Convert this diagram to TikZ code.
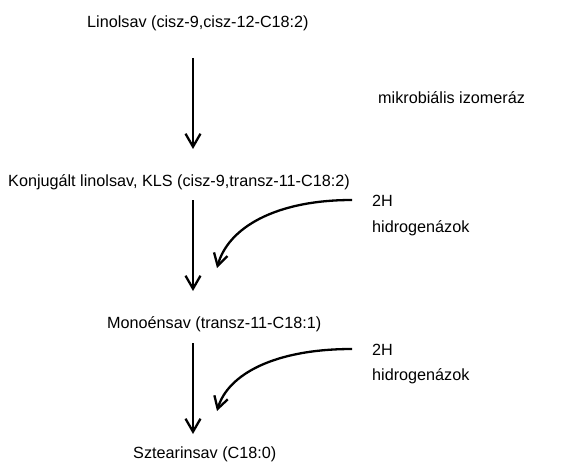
\documentclass[tikz,border=0pt]{standalone}
\usepackage{fontspec}
\setmainfont{Liberation Sans}
\usetikzlibrary{arrows.meta}
\tikzset{
  lbl/.style={anchor=base west, inner sep=0pt, font=\fontsize{16.2}{19}\selectfont},
  main/.style={line width=2.3pt, -{Straight Barb[length=13pt,width=15pt,line width=2.3pt]}},
  curv/.style={line width=2.3pt, -{Straight Barb[length=12pt,width=14pt,line width=2.3pt]}}
}
\begin{document}
\begin{tikzpicture}[x=1pt,y=-1pt]
\useasboundingbox (0,0) rectangle (572,468);
\node[lbl] (lin) at (87,28) {Linolsav (cisz-9,cisz-12-C18:2)};
\node[lbl] (mik) at (378,103) {mikrobiális izomeráz};
\node[lbl] (kls) at (8,186) {Konjugált linolsav, KLS (cisz-9,transz-11-C18:2)};
\node[lbl] (h1) at (372,206) {2H};
\node[lbl] (hg1) at (372,232) {hidrogenázok};
\node[lbl] (mon) at (107,328) {Monoénsav (transz-11-C18:1)};
\node[lbl] (h2) at (372,355) {2H};
\node[lbl] (hg2) at (372,380) {hidrogenázok};
\node[lbl] (szt) at (133,458) {Sztearinsav (C18:0)};
\coordinate (a1s) at (193,58);  \coordinate (a1e) at (193,149);
\coordinate (a2s) at (193,200); \coordinate (a2e) at (193,291);
\coordinate (a3s) at (193,343); \coordinate (a3e) at (193,434);
\coordinate (c1s) at (352,200); \coordinate (c1e) at (217,268);
\coordinate (c2s) at (352,349); \coordinate (c2e) at (217,411);
\draw[main] (a1s) -- (a1e);
\draw[main] (a2s) -- (a2e);
\draw[main] (a3s) -- (a3e);
\draw[curv] (c1s) .. controls (275,200) and (228,228) .. (c1e);
\draw[curv] (c2s) .. controls (275,349) and (228,374) .. (c2e);
\end{tikzpicture}
\end{document}
